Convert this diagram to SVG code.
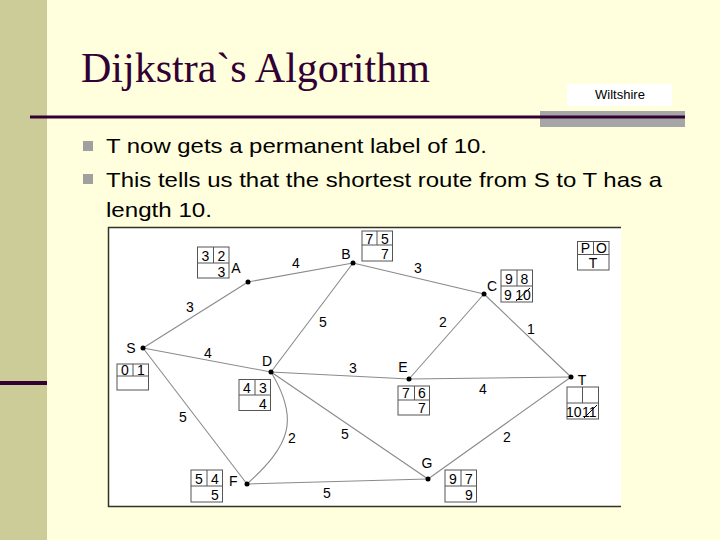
<svg xmlns="http://www.w3.org/2000/svg" width="720" height="540" viewBox="0 0 720 540">
<style>
.t{font-family:"Liberation Sans",Arial,sans-serif;font-size:14px;fill:#000}
.e{stroke:#8a8a8a;stroke-width:1.1;fill:none}
.b{fill:#fff;stroke:#555;stroke-width:1}
.d{fill:#000}
.bt{font-family:"Liberation Sans",Arial,sans-serif;font-size:21px;fill:#000}
</style>
<rect width="720" height="540" fill="#FFFFDD"/>
<rect x="0" y="0" width="47" height="540" fill="#CCCC99"/>
<rect x="0" y="381" width="47" height="4" fill="#330033"/>
<text x="81" y="82" font-family="Liberation Serif,'Times New Roman',serif" font-size="42" fill="#330033">Dijkstra`s Algorithm</text>
<rect x="567" y="84" width="105" height="22" fill="#fff"/>
<text x="620" y="99" font-family="Liberation Sans,Arial,sans-serif" font-size="13" text-anchor="middle" fill="#000">Wiltshire</text>
<rect x="540" y="111" width="145" height="16" fill="#A6A6A6"/>
<rect x="30" y="115.5" width="655" height="3" fill="#330033"/>
<rect x="83" y="141" width="10" height="10" fill="#A0A0A0"/>
<rect x="83" y="174" width="10" height="10" fill="#A0A0A0"/>
<text class="bt" x="106" y="153" textLength="381" lengthAdjust="spacingAndGlyphs">T now gets a permanent label of 10.</text>
<text class="bt" x="106" y="187" textLength="556" lengthAdjust="spacingAndGlyphs">This tells us that the shortest route from S to T has a</text>
<text class="bt" x="106" y="217" textLength="106" lengthAdjust="spacingAndGlyphs">length 10.</text>

<rect x="108" y="227" width="513" height="280" fill="#fff"/>
<path d="M621,227.5 H108.5 V506.5 H621" fill="none" stroke="#333322" stroke-width="1.5"/>

<g id="connectors">
<line class="e" x1="143" y1="348" x2="248" y2="282"/>
<line class="e" x1="248" y1="282" x2="353" y2="263"/>
<line class="e" x1="353" y1="263" x2="484" y2="294"/>
<line class="e" x1="143" y1="348" x2="271" y2="372"/>
<line class="e" x1="353" y1="263" x2="271" y2="372"/>
<line class="e" x1="271" y1="372" x2="409" y2="379"/>
<line class="e" x1="409" y1="379" x2="484" y2="294"/>
<line class="e" x1="484" y1="294" x2="571" y2="377"/>
<line class="e" x1="409" y1="379" x2="571" y2="377"/>
<line class="e" x1="143" y1="348" x2="247" y2="484"/>
<path class="e" d="M271,372 C300,420 290,445 247,484"/>
<line class="e" x1="271" y1="372" x2="428" y2="479"/>
<line class="e" x1="247" y1="484" x2="428" y2="479"/>
<line class="e" x1="428" y1="479" x2="571" y2="377"/>
<text class="t" x="296" y="268" text-anchor="middle">4</text>
<text class="t" x="190" y="312" text-anchor="middle">3</text>
<text class="t" x="323" y="327" text-anchor="middle">5</text>
<text class="t" x="208" y="358" text-anchor="middle">4</text>
<text class="t" x="353" y="373" text-anchor="middle">3</text>
<text class="t" x="418" y="273" text-anchor="middle">3</text>
<text class="t" x="443" y="327" text-anchor="middle">2</text>
<text class="t" x="531" y="334" text-anchor="middle">1</text>
<text class="t" x="483" y="394" text-anchor="middle">4</text>
<text class="t" x="507" y="442" text-anchor="middle">2</text>
<text class="t" x="183" y="422" text-anchor="middle">5</text>
<text class="t" x="292" y="443" text-anchor="middle">2</text>
<text class="t" x="345" y="439" text-anchor="middle">5</text>
<text class="t" x="327" y="498" text-anchor="middle">5</text>
</g>

<g id="node-S">
<circle class="d" cx="143" cy="348" r="2.5"/>
<text class="t" x="131" y="353" text-anchor="middle">S</text>
<rect class="b" x="117" y="364" width="31.5" height="26"/>
<line stroke="#555" x1="117" y1="376" x2="148.5" y2="376"/>
<line stroke="#555" x1="133" y1="364" x2="133" y2="376"/>
<text class="t" x="125" y="375" text-anchor="middle">0</text>
<text class="t" x="141" y="375" text-anchor="middle">1</text>
</g>

<g id="node-A">
<circle class="d" cx="248" cy="282" r="2.5"/>
<text class="t" x="236" y="273" text-anchor="middle">A</text>
<rect class="b" x="197.5" y="247" width="31.5" height="31"/>
<line stroke="#555" x1="197.5" y1="263" x2="229" y2="263"/>
<line stroke="#555" x1="213.5" y1="247" x2="213.5" y2="263"/>
<text class="t" x="205.5" y="261" text-anchor="middle">3</text>
<text class="t" x="221.5" y="261" text-anchor="middle">2</text>
<text class="t" x="221.5" y="277" text-anchor="middle">3</text>
</g>

<g id="node-B">
<circle class="d" cx="353" cy="263" r="2.5"/>
<text class="t" x="346" y="259" text-anchor="middle">B</text>
<rect class="b" x="362" y="231" width="30.5" height="30"/>
<line stroke="#555" x1="362" y1="245" x2="392.5" y2="245"/>
<line stroke="#555" x1="377" y1="231" x2="377" y2="245"/>
<text class="t" x="369.5" y="244" text-anchor="middle">7</text>
<text class="t" x="385" y="244" text-anchor="middle">5</text>
<text class="t" x="385" y="259" text-anchor="middle">7</text>
</g>

<g id="node-C">
<circle class="d" cx="484" cy="294" r="2.5"/>
<text class="t" x="492" y="291" text-anchor="middle">C</text>
<rect class="b" x="501" y="270" width="31.5" height="32"/>
<line stroke="#555" x1="501" y1="286" x2="532.5" y2="286"/>
<line stroke="#555" x1="517" y1="270" x2="517" y2="286"/>
<text class="t" x="509" y="284" text-anchor="middle">9</text>
<text class="t" x="524.5" y="284" text-anchor="middle">8</text>
<text class="t" x="508" y="300" text-anchor="middle">9</text>
<text class="t" x="523" y="300" text-anchor="middle">10</text>
<line stroke="#000" stroke-width="1" x1="516" y1="301" x2="530" y2="288"/>
</g>

<g id="node-D">
<circle class="d" cx="271" cy="372" r="2.5"/>
<text class="t" x="267" y="366" text-anchor="middle">D</text>
<rect class="b" x="239" y="379.5" width="31.5" height="31"/>
<line stroke="#555" x1="239" y1="395" x2="270.5" y2="395"/>
<line stroke="#555" x1="255" y1="379.5" x2="255" y2="395"/>
<text class="t" x="247" y="393" text-anchor="middle">4</text>
<text class="t" x="263" y="393" text-anchor="middle">3</text>
<text class="t" x="263" y="409" text-anchor="middle">4</text>
</g>

<g id="node-E">
<circle class="d" cx="409" cy="379" r="2.5"/>
<text class="t" x="403" y="372" text-anchor="middle">E</text>
<rect class="b" x="398" y="386" width="31.5" height="29"/>
<line stroke="#555" x1="398" y1="400" x2="429.5" y2="400"/>
<line stroke="#555" x1="414.5" y1="386" x2="414.5" y2="400"/>
<text class="t" x="406" y="398" text-anchor="middle">7</text>
<text class="t" x="422" y="398" text-anchor="middle">6</text>
<text class="t" x="422" y="413" text-anchor="middle">7</text>
</g>

<g id="node-F">
<circle class="d" cx="247" cy="484" r="2.5"/>
<text class="t" x="229" y="486">F</text>
<rect class="b" x="191" y="470" width="31.5" height="32"/>
<line stroke="#555" x1="191" y1="486" x2="222.5" y2="486"/>
<line stroke="#555" x1="207" y1="470" x2="207" y2="486"/>
<text class="t" x="199" y="484" text-anchor="middle">5</text>
<text class="t" x="215" y="484" text-anchor="middle">4</text>
<text class="t" x="215" y="500" text-anchor="middle">5</text>
</g>

<g id="node-G">
<circle class="d" cx="428" cy="479" r="2.5"/>
<text class="t" x="427" y="468" text-anchor="middle">G</text>
<rect class="b" x="445" y="470" width="31.5" height="32"/>
<line stroke="#555" x1="445" y1="486" x2="476.5" y2="486"/>
<line stroke="#555" x1="461" y1="470" x2="461" y2="486"/>
<text class="t" x="453" y="484" text-anchor="middle">9</text>
<text class="t" x="469" y="484" text-anchor="middle">7</text>
<text class="t" x="469" y="500" text-anchor="middle">9</text>
</g>

<g id="node-T">
<circle class="d" cx="571" cy="377" r="2.5"/>
<text class="t" x="582" y="385" text-anchor="middle">T</text>
<rect class="b" x="567" y="387" width="31.5" height="32"/>
<line stroke="#555" x1="567" y1="403" x2="598.5" y2="403"/>
<line stroke="#555" x1="582.5" y1="387" x2="582.5" y2="403"/>
<text class="t" x="566" y="417">10</text>
<text class="t" x="582" y="417">11</text>
<line stroke="#000" stroke-width="1" x1="584" y1="418" x2="597" y2="405"/>
</g>

<g id="legend-POT">
<rect class="b" x="577.5" y="241.5" width="31.5" height="28.5"/>
<line stroke="#555" x1="577.5" y1="254.5" x2="609" y2="254.5"/>
<line stroke="#555" x1="593.5" y1="241.5" x2="593.5" y2="254.5"/>
<text class="t" x="585.5" y="253" text-anchor="middle">P</text>
<text class="t" x="601.5" y="253" text-anchor="middle">O</text>
<text class="t" x="593" y="268" text-anchor="middle">T</text>
</g>
</svg>
